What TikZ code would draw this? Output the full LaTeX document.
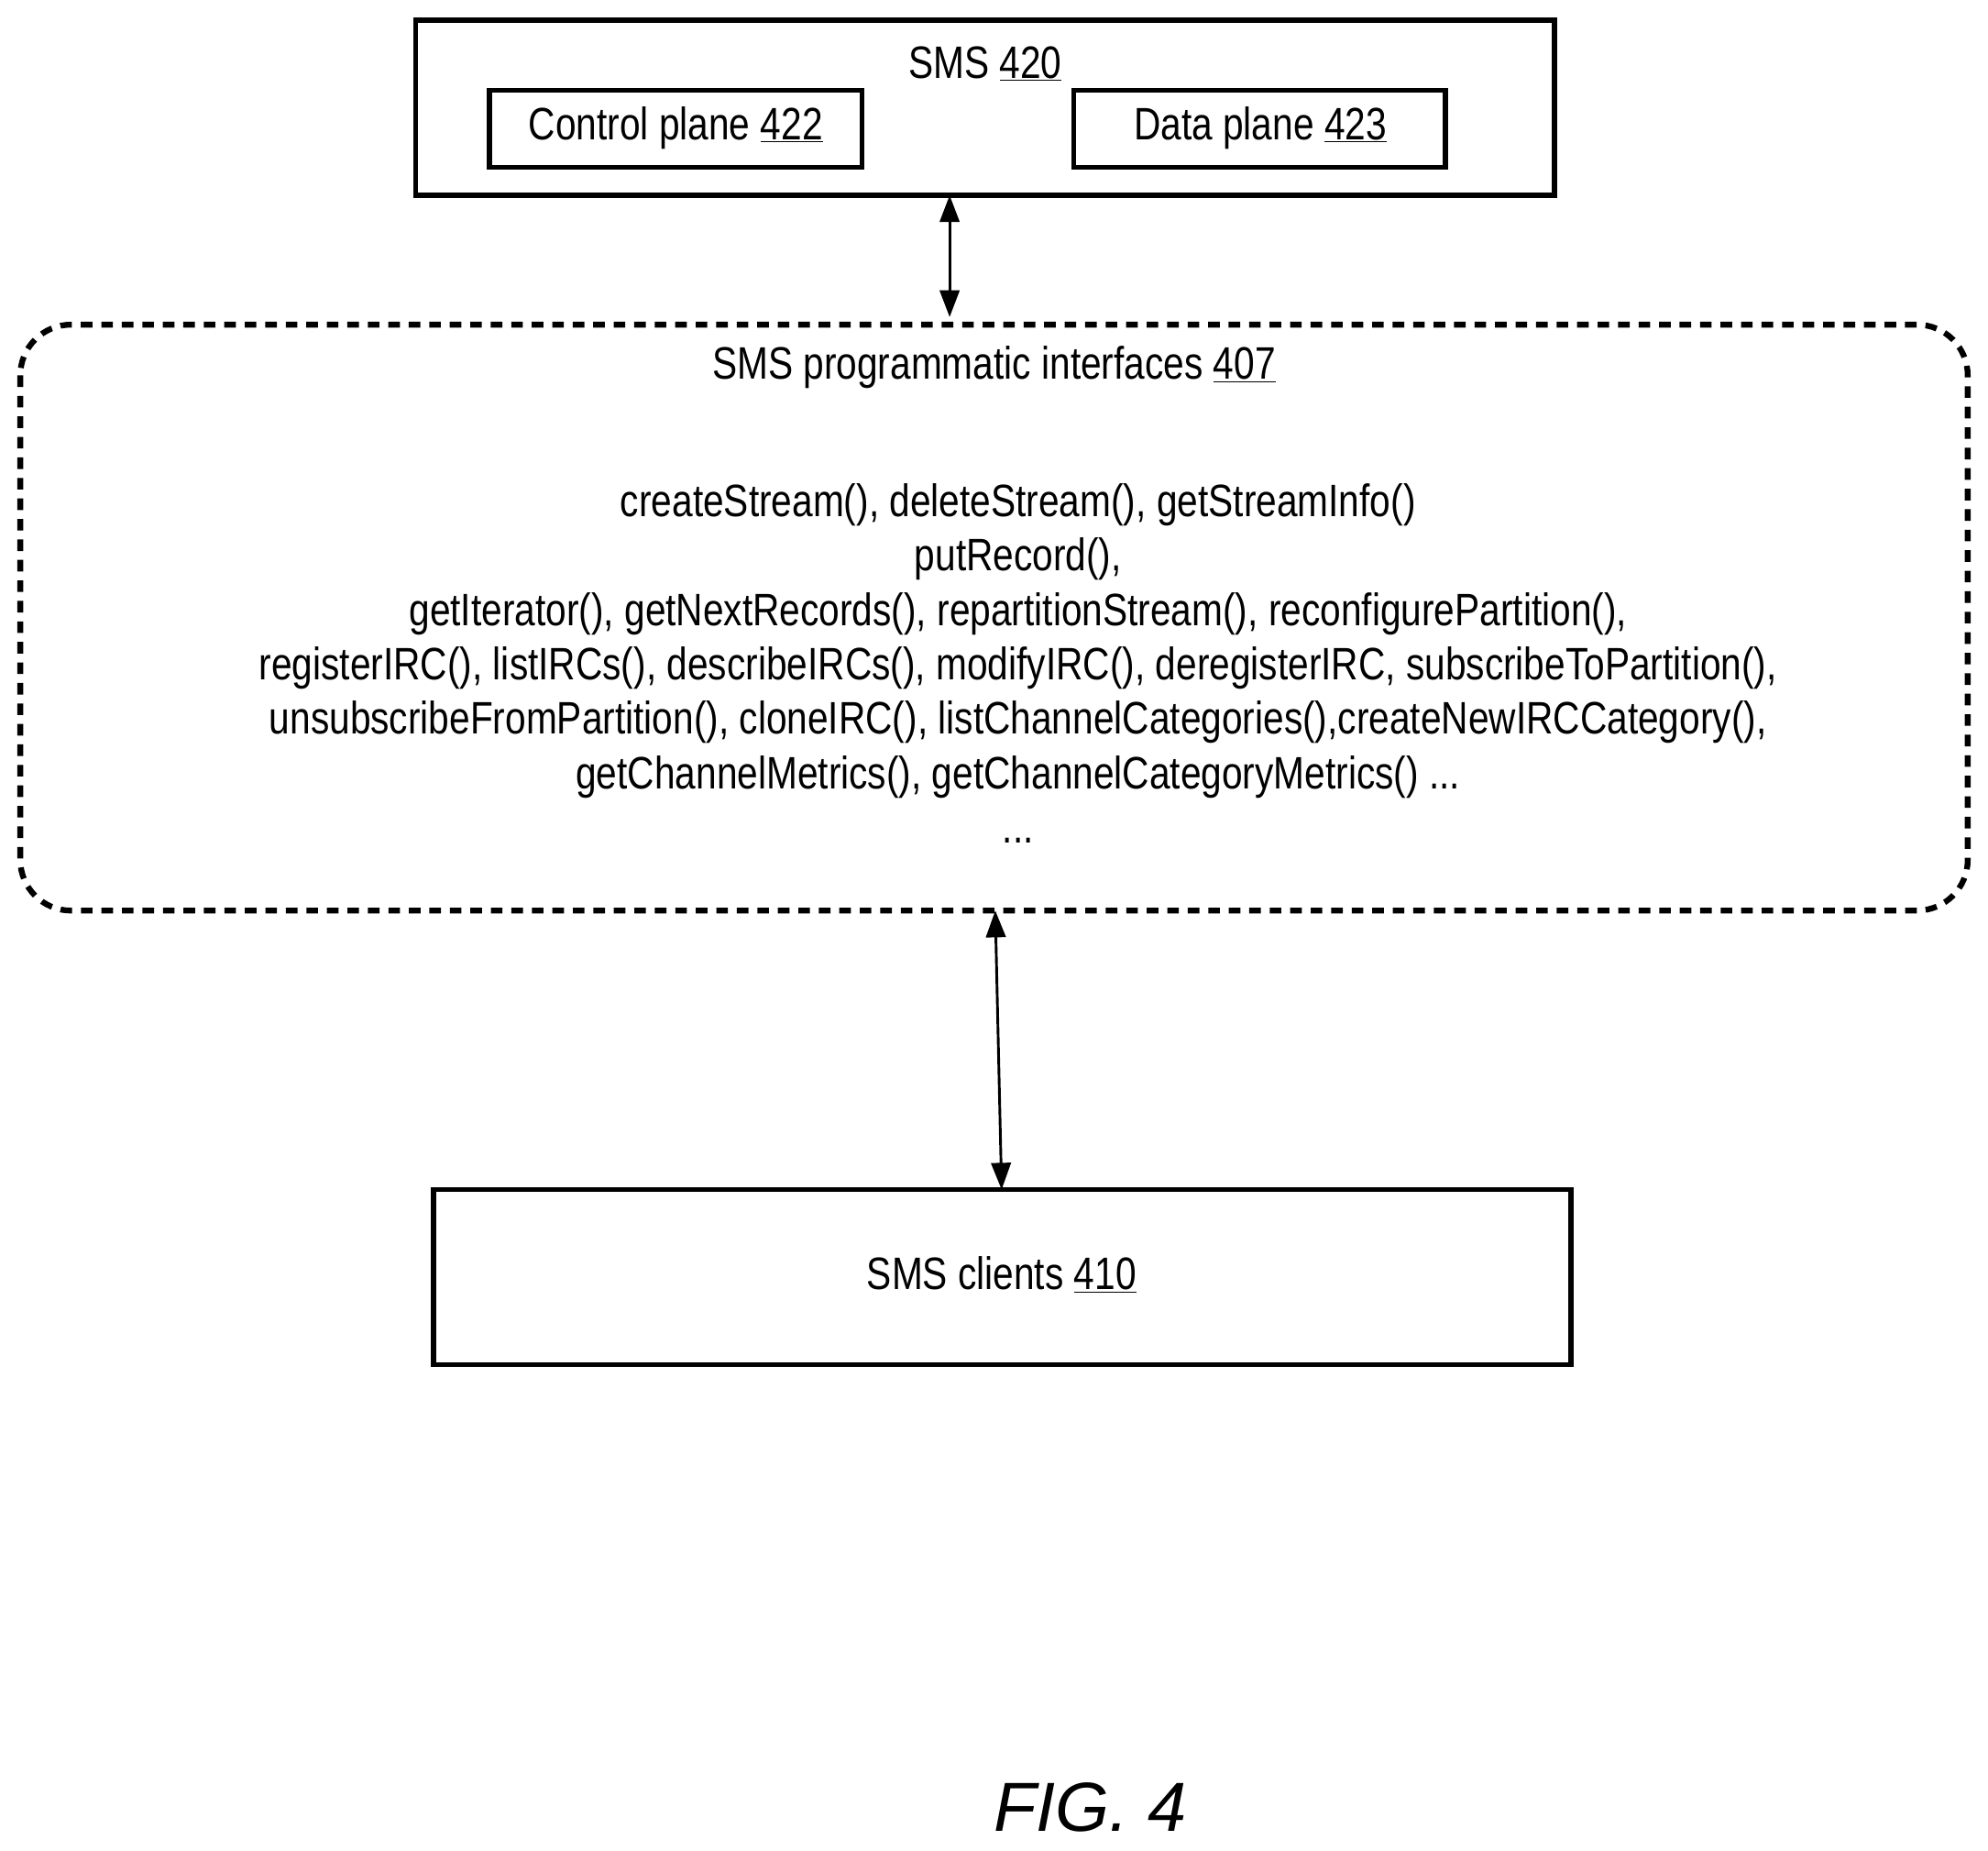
\documentclass[tikz,border=0pt]{standalone}
\usepackage{fontspec}
\setmainfont[FakeStretch=0.82]{Liberation Sans}
\newfontfamily\figfont{Liberation Sans}
\usetikzlibrary{arrows.meta}
\begin{document}
\begin{tikzpicture}[x=0.05cm,y=-0.05cm,
  box/.style={draw,line width=5.5pt},
  lbl/.style={font=\fontsize{51}{61}\selectfont},
  conn/.style={line width=3pt,{Triangle[length=30pt,width=22pt]}-{Triangle[length=30pt,width=22pt]}}]
\useasboundingbox (0,0) rectangle (1568,1459);
\draw[box] (328,16) rectangle (1226,154);
\node[lbl] (sms) at (777,50) {SMS \underline{420}};
\draw[box] (386,71) rectangle (680,132);
\node[lbl] (cp) at (533,101) {Control plane \underline{422}};
\draw[box] (847,71) rectangle (1140,132);
\node[lbl] (dp) at (994,101) {Data plane \underline{423}};
\coordinate (smsb) at (749,154);
\coordinate (ifct) at (749,250);
\draw[conn] (smsb) -- (ifct);
\draw[line width=6.5pt,dash pattern=on 13pt off 10pt,rounded corners=2cm] (16,256) rectangle (1552,718);
\node[lbl] (ifc) at (784,290) {SMS programmatic interfaces \underline{407}};
\node[lbl,align=center,anchor=north] (ops) at (803,379) {createStream(), deleteStream(), getStreamInfo()\\
putRecord(),\\
getIterator(), getNextRecords(), repartitionStream(), reconfigurePartition(),\\
registerIRC(), listIRCs(), describeIRCs(), modifyIRC(), deregisterIRC, subscribeToPartition(),\\
unsubscribeFromPartition(), cloneIRC(), listChannelCategories(),createNewIRCCategory(),\\
getChannelMetrics(), getChannelCategoryMetrics() ...\\
...};
\coordinate (ifcb) at (785,718);
\coordinate (clt) at (790,938);
\draw[conn] (ifcb) -- (clt);
\draw[box] (342,938) rectangle (1239,1076);
\node[lbl] (cl) at (790,1005) {SMS clients \underline{410}};
\node[font=\figfont\itshape\fontsize{78}{84}\selectfont] (fig) at (860,1425) {FIG. 4};
\end{tikzpicture}
\end{document}
